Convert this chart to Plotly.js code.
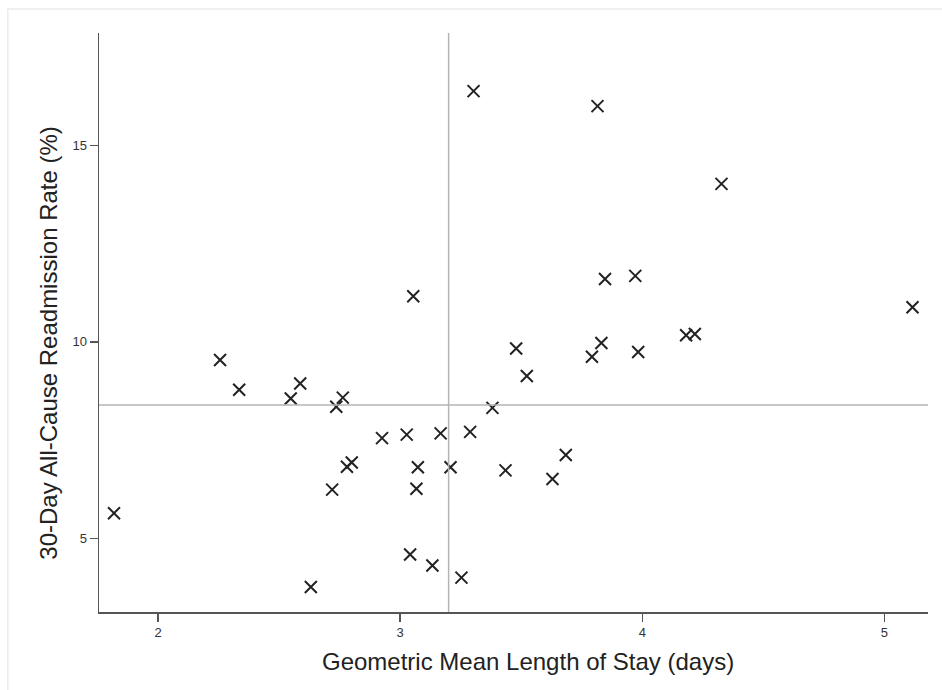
<!DOCTYPE html>
<html>
<head>
<meta charset="utf-8">
<script src="https://cdn.plot.ly/plotly-3.0.1.min.js"></script>
<style>
html,body{margin:0;padding:0;background:#fff;}
#chart{width:942px;height:690px;}
</style>
</head>
<body>
<div id="chart"></div>
<script>
// Geometric mean length of stay (days)
const losDays = [1.818, 2.256, 2.335, 2.548, 2.587, 2.763, 2.736, 2.719, 2.780, 2.800,
  2.631, 2.925, 3.027, 3.167, 3.073, 3.067, 3.054, 3.041, 3.133, 3.253,
  3.208, 3.289, 3.381, 3.435, 3.303, 3.479, 3.523, 3.629, 3.684, 3.792,
  3.831, 3.815, 3.846, 3.971, 3.983, 4.181, 4.217, 4.327, 5.116];
// 30-day all-cause readmission rate (%)
const readmitPct = [5.64, 9.54, 8.78, 8.56, 8.94, 8.58, 8.35, 6.24, 6.82, 6.93,
  3.76, 7.55, 7.64, 7.67, 6.81, 6.26, 11.16, 4.59, 4.31, 4.00,
  6.81, 7.71, 8.32, 6.73, 16.38, 9.83, 9.13, 6.51, 7.12, 9.62,
  9.97, 16.00, 11.60, 11.68, 9.74, 10.17, 10.20, 14.02, 10.88];
const meanLos = 3.2;
const meanReadmit = 8.39;
const xTicks = [2, 3, 4, 5];
const yTicks = [5, 10, 15];
const xTitle = 'Geometric Mean Length of Stay (days)';
const yTitle = '30-Day All-Cause Readmission Rate (%)';

const trace = {
  x: losDays,
  y: readmitPct,
  type: 'scatter',
  mode: 'markers',
  marker: {symbol: 'x-thin', size: 12, line: {color: '#222222', width: 2}, color: '#222222'},
  hoverinfo: 'x+y'
};

const tickFont = {family: 'Liberation Sans, Arial, sans-serif', size: 13, color: '#333333'};
const titleFont = {family: 'Liberation Sans, Arial, sans-serif', size: 24, color: '#222222'};

const layout = {
  width: 942,
  height: 690,
  margin: {l: 99, r: 14, t: 33, b: 78},
  paper_bgcolor: '#ffffff',
  plot_bgcolor: '#ffffff',
  showlegend: false,
  xaxis: {
    range: [1.756, 5.18],
    tickvals: xTicks,
    ticktext: xTicks.map(String),
    showgrid: false,
    zeroline: false,
    showline: true,
    linecolor: '#555555',
    linewidth: 1.5,
    ticks: 'outside',
    ticklen: 8,
    tickcolor: '#555555',
    tickwidth: 1.5,
    tickfont: tickFont
  },
  yaxis: {
    range: [3.125, 17.86],
    tickvals: yTicks,
    ticktext: yTicks.map(String),
    showgrid: false,
    zeroline: false,
    showline: true,
    linecolor: '#555555',
    linewidth: 1.5,
    ticks: 'outside',
    ticklen: 8,
    tickcolor: '#555555',
    tickwidth: 1.5,
    tickfont: tickFont
  },
  annotations: [
    {text: xTitle, xref: 'paper', yref: 'paper', x: 0.5175, y: -0.0852,
     xanchor: 'center', yanchor: 'middle', showarrow: false, font: titleFont},
    {text: yTitle, xref: 'paper', yref: 'paper', x: -0.0603, y: 0.4652, textangle: -90,
     xanchor: 'center', yanchor: 'middle', showarrow: false, font: titleFont}
  ],
  shapes: [
    {type: 'line', xref: 'x', yref: 'paper', x0: meanLos, x1: meanLos, y0: 0, y1: 1,
     line: {color: '#b4b4b4', width: 1.5}},
    {type: 'line', xref: 'paper', yref: 'y', x0: 0, x1: 1, y0: meanReadmit, y1: meanReadmit,
     line: {color: '#b4b4b4', width: 1.5}},
    {type: 'rect', xref: 'paper', yref: 'paper', x0: -0.110, x1: 1.1, y0: -0.2, y1: 1.0415,
     line: {color: '#ececec', width: 1.5}, fillcolor: 'rgba(0,0,0,0)', layer: 'below'}
  ]
};

Plotly.newPlot('chart', [trace], layout, {displayModeBar: false, staticPlot: true});
</script>
</body>
</html>
